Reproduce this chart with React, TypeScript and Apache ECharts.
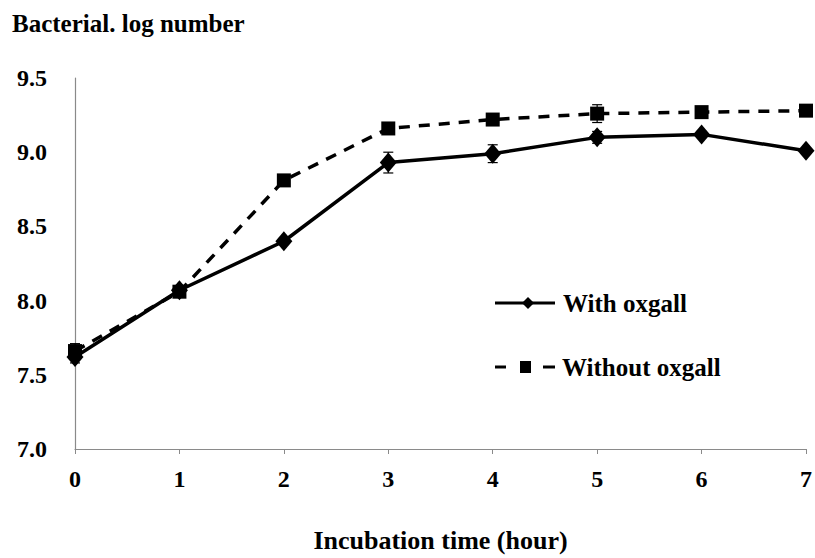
import React, { useEffect, useRef } from "react";
import * as echarts from "echarts";

const hours = [0, 1, 2, 3, 4, 5, 6, 7];
const withOxgall = [7.62, 8.07, 8.4, 8.93, 8.99, 9.1, 9.12, 9.01];
const withoutOxgall = [7.66, 8.06, 8.81, 9.16, 9.22, 9.26, 9.27, 9.28];
const errWith = [0.04, 0.03, 0.02, 0.07, 0.06, 0.04, 0.02, 0.02];
const errWithout = [0.05, 0.02, 0.03, 0.02, 0.02, 0.06, 0.02, 0.02];

const FONT = "'Liberation Serif', 'Times New Roman', serif";

function errSeries(vals: number[], errs: number[]) {
  return {
    type: "custom",
    silent: true,
    z: 1,
    data: hours.map((h, i) => [h, vals[i] - errs[i], vals[i] + errs[i]]),
    renderItem: (params: any, api: any) => {
      const x = api.value(0);
      const lo = api.coord([x, api.value(1)]);
      const hi = api.coord([x, api.value(2)]);
      const w = 5;
      const style = { stroke: "#000", lineWidth: 1.2 };
      return {
        type: "group",
        children: [
          { type: "line", shape: { x1: lo[0], y1: lo[1], x2: hi[0], y2: hi[1] }, style },
          { type: "line", shape: { x1: lo[0] - w, y1: lo[1], x2: lo[0] + w, y2: lo[1] }, style },
          { type: "line", shape: { x1: hi[0] - w, y1: hi[1], x2: hi[0] + w, y2: hi[1] }, style },
        ],
      };
    },
  };
}

export default function App() {
  const ref = useRef<HTMLDivElement>(null);
  useEffect(() => {
    if (!ref.current) return;
    const chart = echarts.init(ref.current, null, { renderer: "svg" });
    const lx = 495;
    const ly1 = 303;
    const ly2 = 367;
    const legendText = { fontSize: 25, fontWeight: "bold", fontFamily: FONT, fill: "#000", verticalAlign: "middle" };
    chart.setOption({
      animation: false,
      backgroundColor: "#fff",
      textStyle: { fontFamily: FONT },
      grid: { left: 75, right: 9, top: 78, bottom: 103 },
      xAxis: {
        type: "value",
        min: 0,
        max: 7,
        interval: 1,
        axisLine: { lineStyle: { color: "#8a8a8a", width: 1.2 } },
        axisTick: { show: true, length: 5, lineStyle: { color: "#8a8a8a" } },
        splitLine: { show: false },
        axisLabel: { color: "#000", fontSize: 24, fontWeight: "bold", fontFamily: FONT, margin: 18 },
        name: "Incubation time (hour)",
        nameLocation: "middle",
        nameGap: 78,
        nameTextStyle: { color: "#000", fontSize: 26, fontWeight: "bold", fontFamily: FONT },
      },
      yAxis: {
        type: "value",
        min: 7,
        max: 9.5,
        interval: 0.5,
        axisLine: { show: true, lineStyle: { color: "#8a8a8a", width: 1.2 } },
        axisTick: { show: false },
        splitLine: { show: false },
        axisLabel: {
          color: "#000",
          fontSize: 24,
          fontWeight: "bold",
          fontFamily: FONT,
          margin: 28,
          formatter: (v: number) => v.toFixed(1),
        },
      },
      graphic: [
        {
          type: "text",
          x: 12,
          y: 23,
          style: { text: "Bacterial. log number", fontSize: 25, fontWeight: "bold", fontFamily: FONT, fill: "#000", verticalAlign: "middle" },
        },
        { type: "line", shape: { x1: lx, y1: ly1, x2: lx + 60, y2: ly1 }, style: { stroke: "#000", lineWidth: 3 } },
        {
          type: "polygon",
          shape: { points: [[lx + 33, ly1 - 6], [lx + 39, ly1], [lx + 33, ly1 + 6], [lx + 27, ly1]] },
          style: { fill: "#000" },
        },
        { type: "text", x: lx + 68, y: ly1, style: { ...legendText, text: "With oxgall" } },
        { type: "line", shape: { x1: lx, y1: ly2, x2: lx + 11, y2: ly2 }, style: { stroke: "#000", lineWidth: 3 } },
        { type: "rect", shape: { x: lx + 25, y: ly2 - 6, width: 11, height: 12 }, style: { fill: "#000" } },
        { type: "line", shape: { x1: lx + 48, y1: ly2, x2: lx + 60, y2: ly2 }, style: { stroke: "#000", lineWidth: 3 } },
        { type: "text", x: lx + 67, y: ly2, style: { ...legendText, text: "Without oxgall" } },
      ],
      series: [
        errSeries(withoutOxgall, errWithout),
        errSeries(withOxgall, errWith),
        {
          name: "Without oxgall",
          type: "line",
          z: 3,
          data: hours.map((h, i) => [h, withoutOxgall[i]]),
          symbol: "rect",
          symbolSize: 14,
          itemStyle: { color: "#000" },
          lineStyle: { color: "#000", width: 3.5, type: [11, 9] },
        },
        {
          name: "With oxgall",
          type: "line",
          z: 4,
          data: hours.map((h, i) => [h, withOxgall[i]]),
          symbol: "diamond",
          symbolSize: [17, 20],
          itemStyle: { color: "#000" },
          lineStyle: { color: "#000", width: 3.5 },
        },
      ],
    });
    return () => chart.dispose();
  }, []);
  return <div ref={ref} style={{ width: 815, height: 558, position: "absolute", left: 0, top: 0 }} />;
}
